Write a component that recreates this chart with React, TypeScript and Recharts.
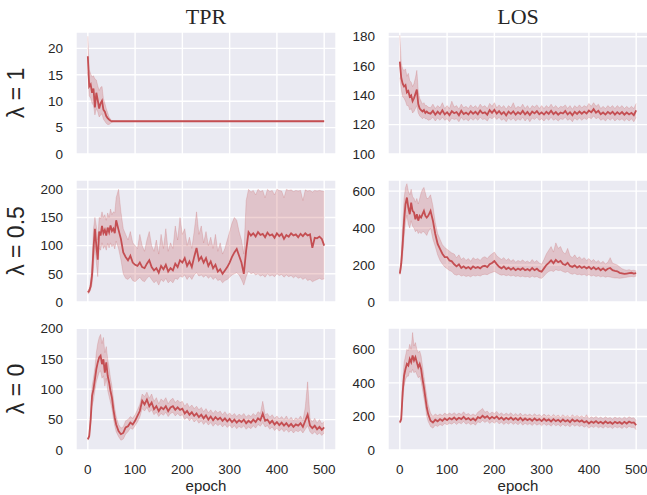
import { ComposedChart, Area, Line, XAxis, YAxis, CartesianGrid } from 'recharts';

// epochs used by most panels: every 3 early on, then every 5
const epochs = [
  0, 3, 6, 9, 12, 15, 18, 21, 24, 27, 30,
  33, 36, 39, 42, 45, 48, 51, 54, 57, 60,
  65, 70, 75, 80, 85, 90, 95, 100, 105, 110,
  115, 120, 125, 130, 135, 140, 145, 150, 155, 160,
  165, 170, 175, 180, 185, 190, 195, 200, 205, 210,
  215, 220, 225, 230, 235, 240, 245, 250, 255, 260,
  265, 270, 275, 280, 285, 290, 295, 300, 305, 310,
  315, 320, 325, 330, 335, 340, 345, 350, 355, 360,
  365, 370, 375, 380, 385, 390, 395, 400, 405, 410,
  415, 420, 425, 430, 435, 440, 445, 450, 455, 460,
  465, 470, 475, 480, 485, 490, 495, 500,
];

// TPR, lambda = 1 (flat after ~epoch 55)
const tpr1Epochs = [0, 3, 6, 9, 12, 15, 18, 21, 24, 27, 30, 33, 36, 39, 42, 45, 48, 51, 54, 57, 60, 500];
const tpr1Mean = [18.5, 12.8, 13.2, 11.6, 12.4, 8.8, 11.6, 10.2, 8.6, 9.6, 10.1, 8.4, 8.0, 7.2, 6.8, 6.5, 6.3, 6.2, 6.2, 6.2, 6.2, 6.2];
const tpr1Hi = [22.3, 16.0, 15.2, 14.6, 14.8, 14.2, 14.0, 12.9, 12.0, 12.6, 12.8, 10.5, 9.6, 8.6, 7.8, 7.0, 6.6, 6.3, 6.2, 6.2, 6.2, 6.2];
const tpr1Lo = [15.5, 11.0, 10.6, 9.6, 9.2, 7.4, 8.6, 8.0, 7.0, 7.4, 7.6, 6.6, 6.2, 5.8, 5.6, 5.6, 5.8, 6.0, 6.2, 6.2, 6.2, 6.2];

// LOS, lambda = 1
const los1Mean = [
  163, 152, 148, 146, 147, 142, 143, 139, 140, 136, 138,
  141, 144, 134, 131, 130, 129, 130, 128, 129, 128,
  127.5, 129.5, 126.8, 128.9, 127.2, 129.8, 127.0, 128.5, 126.5, 129.2,
  127.8, 128.6, 126.4, 129.5, 127.3, 128.2, 126.9, 129.1, 127.5, 128.8,
  127.1, 129.6, 127.8, 128.4, 126.8, 129.9, 128.1, 130.2, 127.6, 129.3,
  127.2, 128.6, 126.3, 128.9, 127.4, 129.1, 126.8, 128.5, 127.3, 129.4,
  127.0, 128.7, 126.6, 128.9, 127.7, 129.2, 127.1, 128.4, 126.9, 128.8,
  127.4, 129.5, 127.2, 128.6, 126.8, 128.3, 127.6, 129.3, 127.0, 128.5,
  126.5, 128.8, 127.3, 129.0, 127.5, 128.9, 127.6, 129.6, 128.4, 130.6,
  128.2, 129.4, 127.1, 128.3, 126.9, 128.7, 127.4, 128.8, 126.9, 128.5,
  127.2, 128.6, 126.8, 128.3, 127.0, 128.1, 126.5, 129.8,
];
const los1Hi = [
  181, 162, 158, 157, 158, 153, 155, 150, 149, 146, 148,
  152, 157, 143, 138, 136, 134, 135, 133, 133, 132,
  131.5, 134, 131, 133, 131.5, 135, 131, 133, 131, 136,
  132, 133, 130.5, 134, 131.5, 132.5, 131, 133.5, 131.5, 133,
  131, 134, 132, 133, 131, 134.5, 132.5, 135, 131.5, 133.5,
  131.5, 133, 130.5, 133, 131.5, 135, 131, 132.5, 131.5, 134,
  131, 133, 130.5, 133, 132, 133.5, 131, 133, 131, 133,
  131.5, 134, 131.5, 133, 131, 132.5, 132, 133.5, 131, 133,
  130.5, 133, 131.5, 133.5, 131.5, 133, 132, 134.5, 132.5, 135,
  132.5, 134, 131, 132.5, 131, 133, 131.5, 133, 131, 133,
  131.5, 133, 131, 132.5, 131, 132.5, 131, 134.5,
];
const los1Lo = [
  152, 144, 139, 138, 136, 133, 133, 130, 131, 128, 129,
  131, 133, 128, 126, 125, 124, 125, 124, 124, 123,
  123.5, 125, 122.5, 124.5, 123, 125, 123, 124, 122, 124.5,
  123.5, 124, 122, 125, 123, 124, 122.5, 124.5, 123, 124.5,
  123, 125, 123.5, 124, 122.5, 125, 124, 125.5, 123.5, 125,
  123, 124, 122, 124.5, 123, 124.5, 122.5, 124, 123, 125,
  122.5, 124.5, 122, 124.5, 123.5, 125, 123, 124, 122.5, 124.5,
  123, 125, 123, 124, 122.5, 124, 123.5, 125, 123, 124,
  122, 124.5, 123, 124.5, 123, 124.5, 123.5, 125, 124, 126,
  124, 125, 123, 124, 122.5, 124.5, 123, 124.5, 122.5, 124,
  123, 124, 122.5, 124, 122.5, 124, 122, 125,
];

// TPR, lambda = 0.5
const tpr2Mean = [
  17, 20, 28, 48, 95, 130, 100, 75, 125, 118, 135,
  122, 128, 118, 132, 124, 136, 126, 130, 122, 145,
  128, 112, 88, 80, 74, 82, 70, 66, 64, 70,
  62, 60, 68, 74, 62, 56, 60, 52, 64, 58,
  66, 54, 60, 56, 68, 62, 74, 70, 78, 64,
  72, 62, 80, 96, 74, 80, 70, 78, 64, 72,
  60, 66, 54, 58, 50, 56, 62, 70, 80, 88,
  94, 82, 70, 50, 92, 124, 118, 122, 116, 124,
  119, 121, 115, 123, 118, 120, 114, 122, 117, 121,
  112, 119, 116, 122, 118, 120, 115, 121, 117, 122,
  118, 120, 96, 114, 113, 116, 112, 100,
];
const tpr2Hi = [
  20, 24, 36, 70, 130, 150, 135, 110, 150, 148, 160,
  150, 155, 145, 158, 150, 165, 155, 160, 158, 185,
  200, 160, 130, 120, 110, 125, 105, 100, 95, 120,
  100, 90, 110, 125, 100, 90, 110, 85, 120, 95,
  130, 90, 105, 95, 135, 110, 150, 120, 130, 100,
  115, 95, 125, 160, 120, 135, 105, 125, 100, 115,
  95, 120, 90, 105, 85, 95, 110, 125, 140, 150,
  145, 125, 110, 85, 180, 200, 195, 198, 190, 200,
  196, 198, 185, 200, 196, 198, 190, 200, 198, 197,
  185, 200, 198, 199, 196, 198, 197, 198, 180, 199,
  197, 198, 195, 198, 197, 198, 197, 196,
];
const tpr2Lo = [
  14, 16, 22, 32, 60, 100, 70, 45, 95, 92, 105,
  95, 100, 92, 104, 96, 105, 98, 102, 94, 108,
  95, 75, 50, 42, 40, 45, 38, 36, 40, 44,
  38, 36, 42, 46, 40, 34, 38, 30, 40, 36,
  42, 34, 38, 34, 42, 40, 46, 44, 48, 40,
  46, 40, 48, 52, 46, 48, 44, 48, 42, 46,
  40, 44, 38, 40, 34, 38, 40, 44, 48, 50,
  52, 48, 40, 30, 45, 55, 50, 52, 48, 50,
  46, 48, 44, 50, 46, 48, 45, 50, 47, 49,
  44, 48, 45, 47, 43, 46, 42, 44, 40, 43,
  38, 40, 36, 38, 40, 42, 40, 41,
];

// LOS, lambda = 0.5
const los2Mean = [
  153, 207, 314, 440, 529, 565, 511, 475, 538, 493, 484,
  448, 475, 440, 466, 457, 475, 493, 466, 457, 466,
  493, 440, 368, 314, 287, 261, 243, 243, 225, 220,
  204, 193, 204, 184, 193, 182, 189, 179, 193, 184,
  189, 182, 193, 196, 189, 204, 211, 222, 205, 190,
  182, 192, 178, 186, 175, 184, 172, 181, 174, 183,
  172, 178, 170, 184, 172, 180, 168, 164, 182, 200,
  212, 225, 210, 228, 215, 222, 205, 200, 212, 195,
  190, 198, 186, 194, 184, 192, 182, 190, 178, 188,
  176, 184, 172, 182, 170, 180, 184, 172, 168, 166,
  158, 155, 152, 154, 156, 158, 154, 156,
];
const los2Hi = [
  165, 250, 400, 560, 620, 640, 600, 580, 610, 570, 560,
  540, 560, 530, 560, 590, 610, 620, 590, 560, 560,
  580, 520, 430, 370, 340, 310, 295, 285, 275, 265,
  260, 240, 255, 230, 240, 225, 235, 220, 240, 230,
  235, 225, 240, 245, 235, 250, 260, 270, 250, 240,
  230, 240, 225, 235, 220, 230, 215, 225, 218, 228,
  215, 222, 212, 230, 215, 225, 210, 205, 230, 260,
  280, 300, 270, 320, 290, 300, 270, 260, 290, 250,
  240, 255, 235, 245, 230, 240, 225, 235, 220, 230,
  215, 225, 210, 220, 205, 215, 240, 210, 205, 200,
  190, 180, 175, 172, 175, 170, 172, 168,
];
const los2Lo = [
  145, 180, 250, 350, 430, 470, 420, 400, 440, 410, 400,
  380, 390, 370, 380, 370, 380, 380, 370, 360, 380,
  400, 340, 300, 255, 225, 205, 190, 180, 170, 165,
  150, 145, 150, 140, 145, 138, 142, 136, 145, 140,
  145, 140, 148, 150, 148, 155, 160, 165, 158, 150,
  145, 148, 142, 146, 140, 145, 138, 142, 136, 140,
  135, 138, 132, 140, 134, 138, 130, 128, 140, 155,
  165, 170, 165, 175, 170, 172, 165, 160, 165, 155,
  150, 155, 148, 150, 145, 150, 142, 148, 140, 145,
  138, 142, 136, 140, 134, 138, 135, 132, 130, 130,
  128, 130, 132, 134, 136, 138, 136, 140,
];

// TPR, lambda = 0
const tpr3Mean = [
  17.6, 23, 50, 89, 100, 116, 133, 144, 152, 155, 141,
  149, 127, 144, 122, 111, 97, 86, 67, 53, 42,
  31, 26, 28, 37, 39, 45, 42, 48, 56, 64,
  81, 75, 83, 72, 78, 67, 72, 64, 70, 67,
  72, 64, 70, 72, 66, 70, 66, 68, 60, 64,
  58, 62, 56, 60, 54, 58, 52, 57, 50, 55,
  49, 54, 50, 53, 48, 52, 47, 51, 46, 50,
  45, 49, 46, 50, 44, 48, 45, 50, 46, 52,
  49, 60, 48, 50, 44, 48, 42, 46, 41, 45,
  40, 44, 39, 43, 38, 42, 40, 44, 38, 48,
  58, 40, 36, 40, 34, 38, 33, 37,
];
const tpr3Hi = [
  19, 26, 60, 105, 118, 135, 160, 175, 185, 190, 175,
  185, 160, 170, 150, 135, 118, 105, 85, 68, 55,
  42, 36, 38, 48, 50, 55, 52, 58, 66, 75,
  92, 88, 95, 85, 92, 80, 86, 76, 84, 80,
  86, 76, 82, 85, 78, 82, 78, 80, 72, 77,
  70, 74, 68, 72, 66, 70, 63, 68, 61, 66,
  60, 65, 61, 64, 58, 63, 57, 61, 56, 60,
  55, 59, 56, 60, 54, 58, 55, 60, 56, 63,
  60, 80, 58, 60, 54, 58, 52, 56, 51, 55,
  50, 56, 49, 54, 48, 53, 50, 56, 48, 70,
  112, 52, 46, 52, 44, 50, 43, 47,
];
const tpr3Lo = [
  16, 20, 40, 72, 82, 98, 112, 120, 128, 130, 118,
  122, 105, 118, 98, 88, 78, 68, 52, 40, 30,
  22, 16, 18, 26, 30, 36, 34, 40, 46, 54,
  68, 64, 70, 62, 66, 58, 62, 55, 60, 57,
  62, 55, 60, 62, 56, 60, 56, 58, 50, 54,
  48, 52, 46, 50, 44, 48, 42, 47, 41, 45,
  39, 44, 40, 43, 38, 42, 37, 41, 36, 40,
  35, 39, 36, 40, 34, 38, 35, 40, 36, 42,
  39, 45, 38, 40, 34, 38, 32, 36, 31, 35,
  30, 34, 29, 33, 28, 32, 30, 33, 28, 34,
  40, 30, 26, 30, 25, 28, 24, 28,
];

// LOS, lambda = 0
const los3Mean = [
  164, 184, 343, 443, 483, 513, 503, 543, 523, 563, 533,
  553, 523, 493, 513, 483, 423, 373, 313, 253, 214,
  174, 164, 180, 171, 184, 174, 188, 178, 190, 182,
  194, 180, 192, 184, 198, 182, 190, 178, 188, 176,
  196, 190, 204, 192, 202, 186, 198, 188, 200, 184,
  194, 180, 192, 182, 194, 180, 190, 178, 192, 176,
  188, 178, 186, 174, 188, 176, 184, 172, 186, 174,
  182, 170, 184, 172, 180, 168, 182, 170, 178, 166,
  182, 170, 178, 168, 176, 164, 172, 158, 170, 162,
  172, 160, 168, 158, 170, 160, 166, 156, 168, 160,
  166, 156, 168, 158, 170, 162, 164, 148,
];
const los3Hi = [
  170, 200, 400, 520, 560, 600, 590, 630, 600, 700, 620,
  640, 600, 580, 590, 560, 500, 440, 380, 320, 270,
  220, 200, 215, 205, 215, 205, 220, 210, 220, 212,
  222, 210, 220, 212, 228, 210, 218, 206, 215, 205,
  225, 235, 248, 225, 232, 215, 226, 218, 230, 212,
  222, 208, 220, 210, 222, 206, 218, 205, 220, 204,
  215, 206, 214, 202, 216, 204, 212, 200, 214, 202,
  210, 198, 212, 200, 208, 196, 210, 198, 206, 194,
  210, 198, 206, 196, 204, 192, 210, 186, 198, 190,
  200, 188, 196, 186, 198, 188, 194, 184, 196, 188,
  194, 184, 196, 186, 198, 190, 192, 176,
];
const los3Lo = [
  158, 170, 290, 380, 420, 440, 440, 470, 460, 480, 460,
  470, 450, 430, 440, 410, 360, 310, 260, 200, 170,
  140, 130, 148, 140, 152, 145, 158, 150, 160, 154,
  166, 152, 164, 156, 170, 154, 162, 150, 160, 148,
  168, 162, 176, 164, 174, 158, 170, 160, 172, 156,
  166, 152, 164, 154, 166, 152, 162, 150, 164, 148,
  160, 150, 158, 146, 160, 148, 156, 144, 158, 146,
  154, 142, 156, 144, 152, 140, 154, 142, 150, 138,
  154, 142, 150, 140, 148, 136, 144, 130, 142, 134,
  144, 132, 140, 130, 142, 132, 138, 128, 140, 132,
  138, 128, 140, 130, 142, 134, 136, 120,
];

const xTicks = [0, 100, 200, 300, 400, 500];
const tpr1Ticks = [0, 5, 10, 15, 20];
const los1Ticks = [100, 120, 140, 160, 180];
const tprTicks = [0, 50, 100, 150, 200];
const losTicks = [0, 200, 400, 600];

const colTitles = ['TPR', 'LOS'];
const rowTitles = ['λ = 1', 'λ = 0.5', 'λ = 0'];

const RED = '#c44e52';
const SANS = '"Liberation Sans", Arial, sans-serif';
const AXIS_W = 60;
const PLOT_W = 260;
const PLOT_H = 122;
const PAD = 10; // room above/below the plot so edge tick labels are not clipped
const COL_LEFT = [76, 388];
const ROW_TOP = [32, 180, 328];

const noTick = () => <g />;

function Panel({ xs, mean, lo, hi, domain, ticks, col, row }: any) {
  const data = xs.map((e: number, i: number) => ({ epoch: e, mean: mean[i], band: [lo[i], hi[i]] }));
  const bottom = row === 2;
  const xh = bottom ? 30 : 0;
  const tick = { fontSize: 13.5, fill: '#262626', fontFamily: SANS };

  return (
    <div style={{ position: 'absolute', left: COL_LEFT[col] - AXIS_W, top: ROW_TOP[row] - PAD }}>
      <ComposedChart
        width={AXIS_W + PLOT_W}
        height={PLOT_H + xh + PAD + (bottom ? 0 : PAD)}
        data={data}
        margin={{ top: PAD, right: 0, bottom: bottom ? 0 : PAD, left: 0 }}
      >
        <CartesianGrid fill="#eaeaf2" stroke="#ffffff" strokeWidth={1.4} />
        <XAxis
          dataKey="epoch"
          type="number"
          domain={[-25, 525]}
          ticks={xTicks}
          interval={0}
          height={xh}
          tick={bottom ? tick : noTick}
          axisLine={false}
          tickLine={false}
          tickSize={0}
          tickMargin={14}
        />
        <YAxis
          type="number"
          domain={domain}
          ticks={ticks}
          interval={0}
          width={AXIS_W}
          tick={tick}
          axisLine={false}
          tickLine={false}
          tickSize={0}
          tickMargin={13}
          allowDataOverflow
        />
        <Area
          dataKey="band"
          type="linear"
          stroke={RED}
          strokeOpacity={0.2}
          strokeWidth={1}
          fill={RED}
          fillOpacity={0.25}
          isAnimationActive={false}
        />
        <Line
          dataKey="mean"
          type="linear"
          stroke={RED}
          strokeWidth={1.8}
          dot={false}
          isAnimationActive={false}
        />
      </ComposedChart>
    </div>
  );
}

export default function App() {
  return (
    <div
      style={{
        position: 'absolute',
        left: 0,
        top: 0,
        width: 647,
        height: 495,
        overflow: 'hidden',
        background: '#ffffff',
      }}
    >
      <Panel xs={tpr1Epochs} mean={tpr1Mean} lo={tpr1Lo} hi={tpr1Hi} domain={[0, 23.1]} ticks={tpr1Ticks} col={0} row={0} />
      <Panel xs={epochs} mean={los1Mean} lo={los1Lo} hi={los1Hi} domain={[100, 183.2]} ticks={los1Ticks} col={1} row={0} />
      <Panel xs={epochs} mean={tpr2Mean} lo={tpr2Lo} hi={tpr2Hi} domain={[0, 216.5]} ticks={tprTicks} col={0} row={1} />
      <Panel xs={epochs} mean={los2Mean} lo={los2Lo} hi={los2Hi} domain={[0, 660]} ticks={losTicks} col={1} row={1} />
      <Panel xs={epochs} mean={tpr3Mean} lo={tpr3Lo} hi={tpr3Hi} domain={[0, 200.5]} ticks={tprTicks} col={0} row={2} />
      <Panel xs={epochs} mean={los3Mean} lo={los3Lo} hi={los3Hi} domain={[0, 727]} ticks={losTicks} col={1} row={2} />

      <svg width={647} height={495} style={{ position: 'absolute', left: 0, top: 0, pointerEvents: 'none' }}>
        {colTitles.map((t, i) => (
          <text
            key={t}
            x={COL_LEFT[i] + PLOT_W / 2}
            y={24}
            textAnchor="middle"
            fontFamily='"Liberation Serif", "Times New Roman", serif'
            fontSize={22}
            fill="#262626"
          >
            {t}
          </text>
        ))}
        {rowTitles.map((t, i) => (
          <text
            key={t}
            x={24}
            y={ROW_TOP[i] + PLOT_H / 2}
            transform={`rotate(-90, 24, ${ROW_TOP[i] + PLOT_H / 2})`}
            textAnchor="middle"
            fontFamily={SANS}
            fontSize={23}
            fill="#262626"
          >
            {t}
          </text>
        ))}
        {COL_LEFT.map((l) => (
          <text
            key={l}
            x={l + PLOT_W / 2}
            y={490.5}
            textAnchor="middle"
            fontFamily={SANS}
            fontSize={15}
            fill="#262626"
          >
            epoch
          </text>
        ))}
      </svg>
    </div>
  );
}
